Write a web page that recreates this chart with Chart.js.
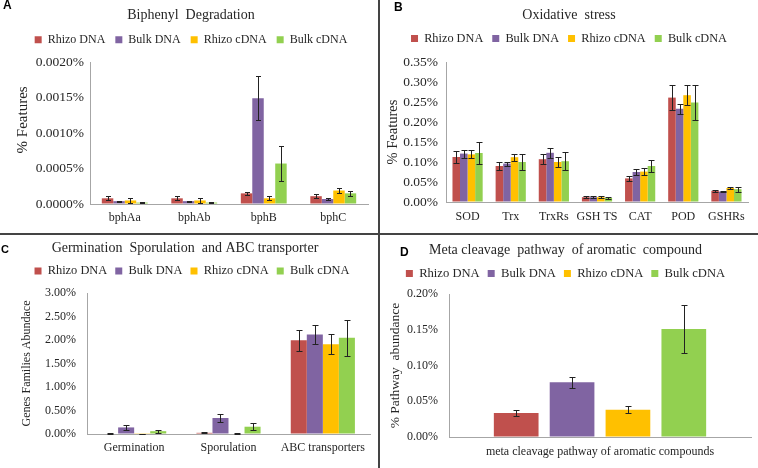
<!DOCTYPE html>
<html>
<head>
<meta charset="utf-8">
<script src="https://cdn.jsdelivr.net/npm/chart.js@4.4.0/dist/chart.umd.min.js"></script>
<style>
  html, body { margin: 0; padding: 0; background: #fff; }
  #fig { position: relative; width: 758px; height: 468px; overflow: hidden; }
  #fig canvas { position: absolute; }
  .tag { position: absolute; font: bold 12px/1 "Liberation Sans", Arial, sans-serif; color: #000; }
  .vline { position: absolute; left: 378px; top: 0; width: 2px; height: 468px; background: #444; }
  .hline { position: absolute; left: 0; top: 233px; width: 758px; height: 2px; background: #444; }
</style>
</head>
<body>
<div id="fig">
  <canvas id="chartA" width="378" height="233" style="left:0;top:0"></canvas>
  <canvas id="chartB" width="378" height="233" style="left:380px;top:0"></canvas>
  <canvas id="chartC" width="378" height="233" style="left:0;top:235px"></canvas>
  <canvas id="chartD" width="378" height="233" style="left:380px;top:235px"></canvas>
  <div class="vline"></div>
  <div class="hline"></div>
  <div class="tag" style="left:3px;top:-1px">A</div>
  <div class="tag" style="left:394px;top:1px">B</div>
  <div class="tag" style="left:1px;top:244px;font-size:11px">C</div>
  <div class="tag" style="left:400px;top:246px">D</div>
</div>
<script>
// series shared by all four panels
const seriesNames = ['Rhizo DNA', 'Bulk DNA', 'Rhizo cDNA', 'Bulk cDNA'];
const seriesColors = ['#C0504D', '#8064A2', '#FFC000', '#92D050'];

// A - biphenyl degradation (% features)
const bphGenes = ['bphAa', 'bphAb', 'bphB', 'bphC'];
const bphMeans = [
    [0.00008, 0.00008, 0.00015, 0.00011],
    [0.00004, 0.00004, 0.00149, 0.00007],
    [0.00005, 0.00005, 0.00008, 0.00019],
    [0.00002, 0.00002, 0.00057, 0.00015]
];
const bphErrors = [
    [0.00003, 0.00003, 0.00002, 0.00003],
    [0.000005, 0.000005, 0.00031, 0.00001],
    [0.00003, 0.00003, 0.00003, 0.00003],
    [0.000005, 0.000005, 0.00024, 0.00004]
];
const bphTicks = [0, 0.0005, 0.001, 0.0015, 0.002];

// B - oxidative stress (% features)
const oxGenes = ['SOD', 'Trx', 'TrxRs', 'GSH TS', 'CAT', 'POD', 'GSHRs'];
const oxMeans = [
    [0.1125, 0.090, 0.107, 0.012, 0.059, 0.261, 0.028],
    [0.121, 0.096, 0.123, 0.012, 0.075, 0.233, 0.026],
    [0.119, 0.112, 0.100, 0.012, 0.076, 0.267, 0.035],
    [0.1225, 0.100, 0.102, 0.010, 0.090, 0.249, 0.032]
];
const oxErrors = [
    [0.015, 0.011, 0.012, 0.002, 0.007, 0.032, 0.003],
    [0.010, 0.005, 0.012, 0.002, 0.007, 0.013, 0.002],
    [0.010, 0.009, 0.012, 0.002, 0.008, 0.025, 0.003],
    [0.027, 0.021, 0.022, 0.002, 0.016, 0.044, 0.006]
];
const oxTicks = [0, 0.05, 0.10, 0.15, 0.20, 0.25, 0.30, 0.35];

// C - germination, sporulation, ABC transporters (% abundance)
const gsaGroups = ['Germination', 'Sporulation', 'ABC transporters'];
const gsaMeans = [
    [0.01, 0.025, 1.995],
    [0.14, 0.34, 2.115],
    [0.005, 0.01, 1.91],
    [0.06, 0.155, 2.05]
];
const gsaErrors = [
    [0.005, 0.01, 0.22],
    [0.045, 0.08, 0.20],
    [0.003, 0.01, 0.21],
    [0.03, 0.08, 0.38]
];
const gsaTicks = [0, 0.5, 1.0, 1.5, 2.0, 2.5, 3.0];

// D - meta cleavage pathway (% pathway abundance)
const metaGroups = ['meta cleavage pathway of aromatic compounds'];
const metaMeans = [[0.0335], [0.0767], [0.038], [0.151]];
const metaErrors = [[0.0045], [0.0077], [0.005], [0.033]];
const metaTicks = [0, 0.05, 0.10, 0.15, 0.20];

const serif = '"Liberation Serif", "Times New Roman", serif';
const textColor = '#262626';
const axisColor = '#a6a6a6';

// draws +/- error whiskers on top of every bar
const errorBars = {
    id: 'errorBars',
    afterDatasetsDraw(chart, args, opts) {
        const ctx = chart.ctx;
        const yScale = chart.scales.y;
        ctx.save();
        ctx.strokeStyle = '#222';
        ctx.lineWidth = 1;
        chart.data.datasets.forEach((ds, i) => {
            const meta = chart.getDatasetMeta(i);
            meta.data.forEach((bar, j) => {
                const v = ds.data[j];
                const e = opts.errors[i][j];
                const top = Math.round(yScale.getPixelForValue(v + e)) + 0.5;
                const bot = Math.round(yScale.getPixelForValue(Math.max(v - e, 0))) + 0.5;
                const x = Math.round(bar.x) + 0.5;
                ctx.beginPath();
                ctx.moveTo(x, top);
                ctx.lineTo(x, bot);
                ctx.moveTo(x - opts.cap, top);
                ctx.lineTo(x + opts.cap, top);
                ctx.moveTo(x - opts.cap, bot);
                ctx.lineTo(x + opts.cap, bot);
                ctx.stroke();
            });
        });
        ctx.restore();
    }
};

function drawPanel(id, p) {
    const ticks = p.ticks;
    return new Chart(document.getElementById(id), {
        type: 'bar',
        data: {
            labels: p.labels,
            datasets: seriesNames.map((name, i) => ({
                label: name,
                data: p.means[i],
                backgroundColor: seriesColors[i],
                borderWidth: 0,
                categoryPercentage: p.catPct,
                barPercentage: p.barPct
            }))
        },
        options: {
            responsive: false,
            animation: false,
            layout: { padding: { left: p.padLeft, right: p.padRight, top: 0, bottom: 0 } },
            plugins: {
                title: {
                    display: true, text: p.title, color: textColor,
                    font: { family: serif, size: 14, weight: 'normal', lineHeight: 1.2 },
                    padding: { top: p.titleTop, bottom: 0 }
                },
                legend: {
                    position: 'top',
                    labels: {
                        boxWidth: 7, boxHeight: 7, padding: p.legendPad, color: textColor,
                        font: { family: serif, size: p.legendSize }
                    }
                },
                // empty spacer between legend and plot
                subtitle: {
                    display: true, text: '', weight: 10, padding: 0,
                    font: { size: p.gap, lineHeight: 1 }
                },
                tooltip: { enabled: false },
                errorBars: { errors: p.errors, cap: p.cap }
            },
            scales: {
                x: {
                    grid: { display: true, drawOnChartArea: false, drawTicks: false },
                    border: { display: true, color: axisColor, width: 1 },
                    ticks: {
                        color: textColor, font: { family: serif, size: 12 },
                        padding: p.xPad, maxRotation: 0, autoSkip: false
                    },
                    afterFit: s => { s.height = p.xHeight; }
                },
                y: {
                    min: ticks[0],
                    max: ticks[ticks.length - 1],
                    grid: { display: true, drawOnChartArea: false, drawTicks: false },
                    border: { display: true, color: axisColor, width: 1 },
                    ticks: {
                        stepSize: ticks[1] - ticks[0],
                        color: textColor, font: { family: serif, size: p.yTickSize },
                        padding: p.yPad,
                        callback: v => v.toFixed(p.dec) + '%'
                    },
                    title: {
                        display: true, text: p.yTitle, color: textColor,
                        font: { family: serif, size: p.yTitleSize },
                        padding: { top: p.yTitlePad, bottom: 0 }
                    },
                    afterFit: s => { s.width = p.left - p.padLeft; }
                }
            }
        },
        plugins: [errorBars]
    });
}

drawPanel('chartA', {
    labels: bphGenes, means: bphMeans, errors: bphErrors, ticks: bphTicks, dec: 4,
    title: 'Biphenyl  Degradation', yTitle: '       % Features', yTitleSize: 15, yTitlePad: 0,
    left: 90, padLeft: 14, padRight: 10, titleTop: 7, legendPad: 10, legendSize: 12, gap: 6.2,
    xHeight: 29, xPad: 7, yPad: 6, yTickSize: 13.5, catPct: 0.66, barPct: 1, cap: 2.5
});

drawPanel('chartB', {
    labels: oxGenes, means: oxMeans, errors: oxErrors, ticks: oxTicks, dec: 2,
    title: 'Oxidative  stress', yTitle: '% Features', yTitleSize: 14.5, yTitlePad: -5.7,
    left: 66, padLeft: 10, padRight: 10, titleTop: 6.5, legendPad: 9, legendSize: 12.3, gap: 7.4,
    xHeight: 31, xPad: 8, yPad: 8, yTickSize: 13.5, catPct: 0.70, barPct: 1, cap: 3
});

drawPanel('chartC', {
    labels: gsaGroups, means: gsaMeans, errors: gsaErrors, ticks: gsaTicks, dec: 2,
    title: 'Germination  Sporulation  and ABC transporter    ', yTitle: 'Genes Families Abundace',
    yTitleSize: 12, yTitlePad: 5.8,
    left: 87, padLeft: 14, padRight: 8, titleTop: 5, legendPad: 8, legendSize: 12.4, gap: 5.8,
    xHeight: 34, xPad: 7, yPad: 11, yTickSize: 12, catPct: 0.68, barPct: 1, cap: 3
});

drawPanel('chartD', {
    labels: metaGroups, means: metaMeans, errors: metaErrors, ticks: metaTicks, dec: 2,
    title: 'Meta cleavage  pathway  of aromatic  compound', yTitle: '% Pathway  abundance',
    yTitleSize: 13.5, yTitlePad: 6.9,
    left: 69, padLeft: 0, padRight: 7, titleTop: 7.3, legendPad: 8, legendSize: 12.6, gap: 4.3,
    xHeight: 31, xPad: 8, yPad: 11, yTickSize: 12, catPct: 0.74, barPct: 0.8, cap: 3
});
</script>
</body>
</html>
